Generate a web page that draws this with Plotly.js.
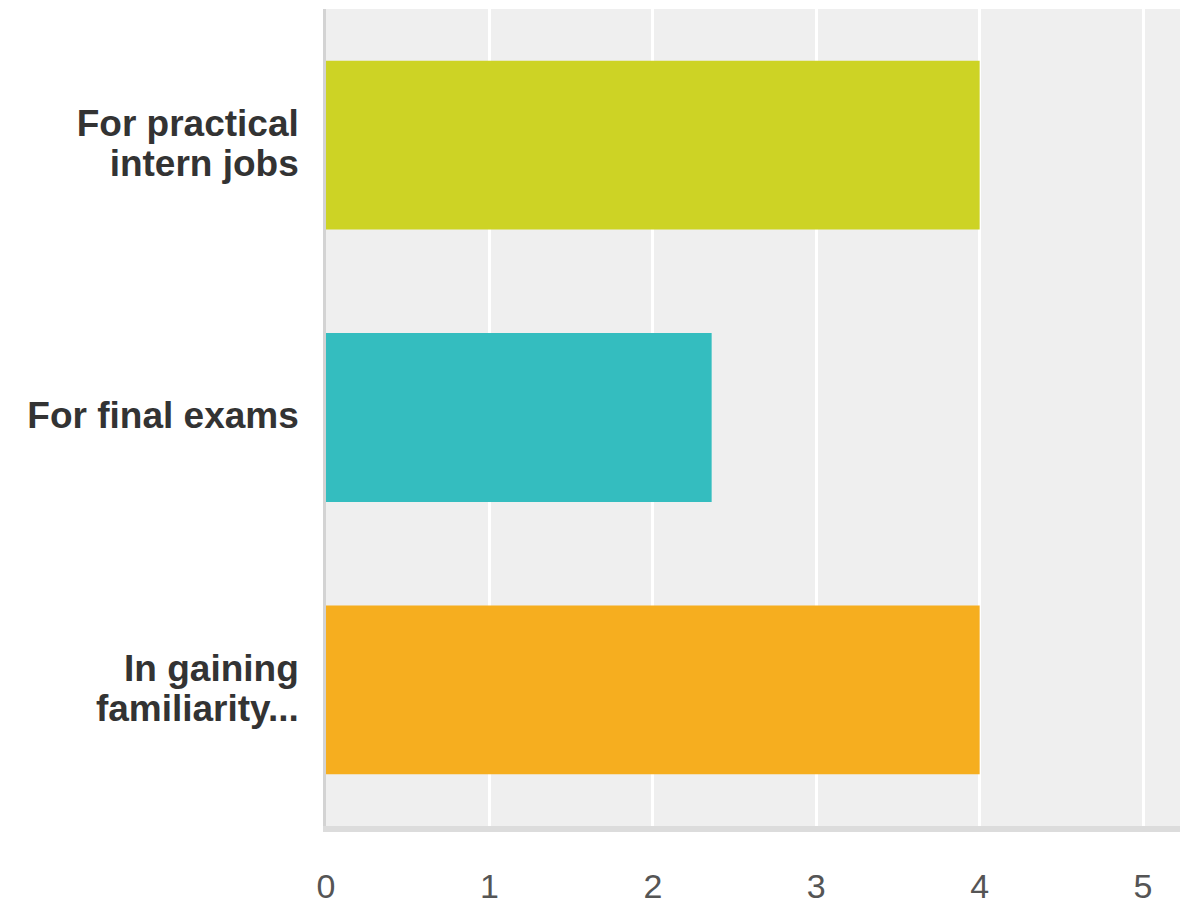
<!DOCTYPE html>
<html>
<head>
<meta charset="utf-8">
<script src="https://cdn.plot.ly/plotly-3.0.1.min.js"></script>
<style>
html,body{margin:0;padding:0;background:#fff;}
#chart{width:1189px;height:905px;}
</style>
</head>
<body>
<div id="chart"></div>
<script>
var categories = ["For practical<br>intern jobs", "For final exams", "In gaining<br>familiarity..."];
var values = [4, 2.36, 4];
var barColors = ["#cdd325", "#34bdbf", "#f6ae1f"];
var xTickVals = [0, 1, 2, 3, 4, 5];
var xTickText = ["0", "1", "2", "3", "4", "5"];

var styledCats = categories.map(function (c) {
  return c.split("<br>").map(function (p) {
    return '<span style="font-size:37px">' + p + '</span>';
  }).join("<br>");
});

var trace = {
  type: "bar",
  orientation: "h",
  y: styledCats,
  x: values,
  marker: { color: barColors, line: { width: 0 } },
  hoverinfo: "x+y"
};

var layout = {
  width: 1189,
  height: 905,
  margin: { l: 326, r: 9, t: 9, b: 79, pad: 0 },
  paper_bgcolor: "#ffffff",
  plot_bgcolor: "#efefef",
  showlegend: false,
  bargap: 0.38,
  font: { family: "Liberation Sans, Arial, Helvetica, sans-serif", color: "#333333" },
  xaxis: {
    range: [0, 5.226],
    tickmode: "array",
    tickvals: xTickVals,
    ticktext: xTickText,
    showgrid: true,
    gridcolor: "#ffffff",
    gridwidth: 3,
    zeroline: false,
    showline: true,
    linecolor: "#dcdcdc",
    linewidth: 6,
    ticks: "outside",
    ticklen: 25,
    tickcolor: "rgba(0,0,0,0)",
    tickfont: { size: 34, color: "#555555", family: "Liberation Sans, Arial, sans-serif" },
    fixedrange: true
  },
  yaxis: {
    type: "category",
    range: [2.5, -0.5],
    showgrid: false,
    zeroline: false,
    showline: true,
    linecolor: "#d3d3d3",
    linewidth: 3,
    ticks: "outside",
    ticklen: 18,
    tickcolor: "rgba(0,0,0,0)",
    tickfont: { size: 31, color: "#333333", family: "Liberation Sans, Arial, sans-serif", weight: "bold" },
    fixedrange: true
  }
};

Plotly.newPlot("chart", [trace], layout, { displayModeBar: false, staticPlot: true });
</script>
</body>
</html>
